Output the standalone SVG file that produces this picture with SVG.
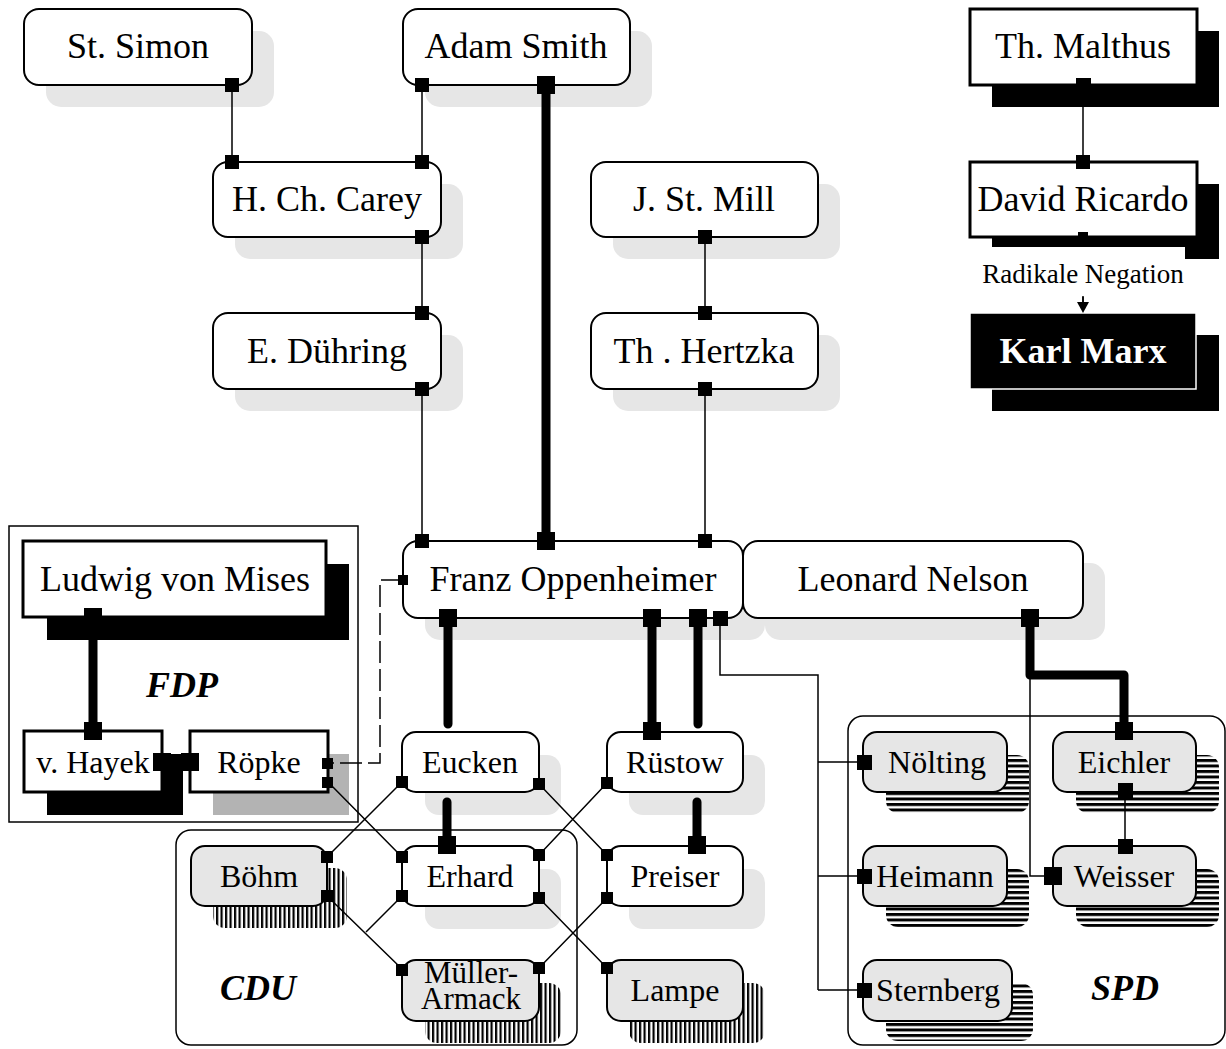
<svg xmlns="http://www.w3.org/2000/svg" width="1226" height="1049" viewBox="0 0 1226 1049">
<defs>
<pattern id="hs" width="10" height="5.5" patternUnits="userSpaceOnUse"><rect width="10" height="3" fill="#000"/></pattern>
<pattern id="vs" width="4.5" height="10" patternUnits="userSpaceOnUse"><rect width="2.2" height="10" fill="#000"/></pattern>
<style>
.box{fill:#fff;stroke:#000;stroke-width:2}
.gbox{fill:#e6e6e6;stroke:#000;stroke-width:2}
.sbox{fill:#fff;stroke:#000;stroke-width:3}
.shd{fill:#e6e6e6}
.bshd{fill:#000}
.hs{fill:url(#hs)}
.vs{fill:url(#vs)}
.cont{fill:none;stroke:#000;stroke-width:1.5}
.t{font-family:"Liberation Serif","Times New Roman",serif;font-size:36px;text-anchor:middle;fill:#000}
.ts{font-size:32px}
.lab{font-weight:bold;font-style:italic}
.thin{stroke:#000;stroke-width:1.5;fill:none}
.thick{stroke:#000;stroke-width:9;fill:none;stroke-linecap:round;stroke-linejoin:round}
.dash{stroke:#000;stroke-width:1.5;fill:none;stroke-dasharray:22 6}
.sq{fill:#000}
</style>
</defs>
<rect width="1226" height="1049" fill="#fff"/>

<g id="containers">
<rect id="fdp" x="9" y="526" width="349" height="296" class="cont"/>
<rect id="cdu" x="176" y="830" width="401" height="215" rx="15" class="cont"/>
<rect id="spd" x="848" y="716" width="377" height="329" rx="15" class="cont"/>
<text class="t lab" x="182" y="697">FDP</text>
<text class="t lab" x="258" y="1000">CDU</text>
<text class="t lab" x="1125" y="1000">SPD</text>
</g>

<g id="n-stsimon"><rect x="46" y="31" width="228" height="76" rx="15" class="shd"/><rect x="24" y="9" width="228" height="76" rx="15" class="box"/><text class="t" x="138" y="58">St. Simon</text></g>
<g id="n-smith"><rect x="425" y="31" width="227" height="76" rx="15" class="shd"/><rect x="403" y="9" width="227" height="76" rx="15" class="box"/><text class="t" x="516" y="58">Adam Smith</text></g>
<g id="n-malthus"><rect x="992" y="31" width="227" height="76" class="bshd"/><rect x="970" y="9" width="227" height="76" class="sbox"/><text class="t" x="1083" y="58">Th. Malthus</text></g>
<g id="n-carey"><rect x="235" y="184" width="228" height="75" rx="15" class="shd"/><rect x="213" y="162" width="228" height="75" rx="15" class="box"/><text class="t" x="327" y="211">H. Ch. Carey</text></g>
<g id="n-mill"><rect x="613" y="184" width="227" height="75" rx="15" class="shd"/><rect x="591" y="162" width="227" height="75" rx="15" class="box"/><text class="t" x="704" y="211">J. St. Mill</text></g>
<g id="n-ricardo"><rect x="992" y="184" width="227" height="75" class="bshd"/><rect x="970" y="162" width="227" height="75" class="sbox"/><text class="t" x="1083" y="211">David Ricardo</text></g>
<g id="n-duehring"><rect x="235" y="335" width="228" height="76" rx="15" class="shd"/><rect x="213" y="313" width="228" height="76" rx="15" class="box"/><text class="t" x="327" y="363">E. Dühring</text></g>
<g id="n-hertzka"><rect x="613" y="335" width="227" height="76" rx="15" class="shd"/><rect x="591" y="313" width="227" height="76" rx="15" class="box"/><text class="t" x="704" y="363">Th . Hertzka</text></g>
<g id="n-marx"><rect x="992" y="335" width="227" height="76" class="bshd"/><rect x="970" y="313" width="226" height="76" fill="#000" stroke="#fff" stroke-width="1.5"/><text class="t" x="1083" y="363" font-weight="bold" style="fill:#fff">Karl Marx</text></g>

<g id="n-oppenheimer"><rect x="425" y="563" width="340" height="77" rx="15" class="shd"/><rect x="403" y="541" width="340" height="77" rx="15" class="box"/><text class="t" x="573" y="591">Franz Oppenheimer</text></g>
<g id="n-nelson"><rect x="765" y="563" width="340" height="77" rx="15" class="shd"/><rect x="743" y="541" width="340" height="77" rx="15" class="box"/><text class="t" x="913" y="591">Leonard Nelson</text></g>

<g id="n-mises"><rect x="47" y="564" width="302" height="76" class="bshd"/><rect x="23" y="541" width="303" height="76" class="sbox"/><text class="t" x="175" y="591">Ludwig von Mises</text></g>
<g id="n-hayek"><rect x="47" y="754" width="136" height="61" class="bshd"/><rect x="24" y="731" width="138" height="61" class="sbox"/><text class="t ts" x="93" y="773">v. Hayek</text></g>
<g id="n-roepke"><rect x="213" y="754" width="136" height="61" fill="#b3b3b3"/><rect x="190" y="731" width="138" height="61" class="sbox"/><text class="t ts" x="259" y="773">Röpke</text></g>

<g id="n-eucken"><rect x="425" y="755" width="136" height="60" rx="14" class="shd"/><rect x="402" y="732" width="137" height="60" rx="14" class="box"/><text class="t ts" x="470" y="773">Eucken</text></g>
<g id="n-ruestow"><rect x="629" y="755" width="136" height="60" rx="14" class="shd"/><rect x="607" y="732" width="136" height="60" rx="14" class="box"/><text class="t ts" x="675" y="773">Rüstow</text></g>
<g id="n-erhard"><rect x="425" y="869" width="136" height="60" rx="14" class="shd"/><rect x="402" y="846" width="137" height="60" rx="14" class="box"/><text class="t ts" x="470" y="887">Erhard</text></g>
<g id="n-preiser"><rect x="629" y="869" width="136" height="60" rx="14" class="shd"/><rect x="607" y="846" width="136" height="60" rx="14" class="box"/><text class="t ts" x="675" y="887">Preiser</text></g>
<g id="n-boehm"><rect x="213" y="868" width="134" height="60" rx="12" class="vs"/><rect x="191" y="846" width="136" height="60" rx="14" class="gbox"/><text class="t ts" x="259" y="887">Böhm</text></g>
<g id="n-muellerarmack"><rect x="425" y="983" width="136" height="60" rx="12" class="vs"/><rect x="402" y="960" width="137" height="61" rx="14" class="gbox"/><text class="t ts" x="471" y="983" style="font-size:31px">Müller-</text><text class="t ts" x="471" y="1009" style="font-size:31px">Armack</text></g>
<g id="n-lampe"><rect x="629" y="983" width="136" height="60" rx="12" class="vs"/><rect x="607" y="960" width="136" height="61" rx="14" class="gbox"/><text class="t ts" x="675" y="1001">Lampe</text></g>

<g id="n-noelting"><rect x="886" y="755" width="143" height="58" rx="12" class="hs"/><rect x="863" y="732" width="144" height="60" rx="14" class="gbox"/><text class="t ts" x="937" y="773">Nölting</text></g>
<g id="n-eichler"><rect x="1076" y="755" width="143" height="58" rx="12" class="hs"/><rect x="1053" y="732" width="143" height="60" rx="14" class="gbox"/><text class="t ts" x="1124" y="773">Eichler</text></g>
<g id="n-heimann"><rect x="886" y="869" width="143" height="58" rx="12" class="hs"/><rect x="863" y="846" width="144" height="60" rx="14" class="gbox"/><text class="t ts" x="935" y="887">Heimann</text></g>
<g id="n-weisser"><rect x="1076" y="869" width="143" height="58" rx="12" class="hs"/><rect x="1053" y="846" width="143" height="60" rx="14" class="gbox"/><text class="t ts" x="1124" y="887">Weisser</text></g>
<g id="n-sternberg"><rect x="886" y="983" width="147" height="58" rx="12" class="hs"/><rect x="863" y="960" width="149" height="61" rx="14" class="gbox"/><text class="t ts" x="938" y="1001">Sternberg</text></g>

<g id="connectors">
<path class="thin" d="M232 85V162M422 85V162M422 237V313M422 389V541M705 237V313M705 389V541M1083 85V162M1083 238V303"/>
<path class="thin" d="M720 618V675H818V990M818 762H864M818 876H864M818 990H864M1030 675V876H1053M1125 790V846"/>
<path class="thin" d="M402 782L327 857M328 782L402 857M327 896L402 969M402 896L366 932M539 784L607 855M607 783L539 855M539 898L607 968M607 898L539 968"/>
<path class="dash" d="M403 580H380V763H328"/>
<path class="thick" d="M546 85V541M93 617V731M162 762H190M448 618V724M652 618V731M698 618V724M447 802V845M697 802V845M1030 618V675H1124V731"/>
<g class="sq">
<rect x="537" y="76" width="18" height="18"/><rect x="537" y="532" width="18" height="18"/>
<rect x="84" y="608" width="18" height="18"/><rect x="84" y="722" width="18" height="18"/>
<rect x="153" y="753" width="18" height="18"/><rect x="181" y="753" width="18" height="18"/>
<rect x="439" y="609" width="18" height="18"/><rect x="643" y="609" width="18" height="18"/><rect x="689" y="609" width="18" height="18"/>
<rect x="643" y="722" width="18" height="18"/><rect x="438" y="836" width="18" height="18"/><rect x="688" y="836" width="18" height="18"/>
<rect x="1021" y="609" width="18" height="18"/><rect x="1115" y="722" width="18" height="18"/><rect x="1044" y="867" width="18" height="18"/>
<rect x="225" y="78" width="14" height="14"/><rect x="225" y="155" width="14" height="14"/>
<rect x="415" y="78" width="14" height="14"/><rect x="415" y="155" width="14" height="14"/>
<rect x="415" y="230" width="14" height="14"/><rect x="415" y="306" width="14" height="14"/>
<rect x="415" y="382" width="14" height="14"/><rect x="415" y="534" width="14" height="14"/>
<rect x="698" y="230" width="14" height="14"/><rect x="698" y="306" width="14" height="14"/>
<rect x="698" y="382" width="14" height="14"/><rect x="698" y="534" width="14" height="14"/>
<rect x="1076" y="78" width="15" height="14"/><rect x="1076" y="155" width="14" height="14"/>
<rect x="1078" y="232" width="10" height="10"/>
<rect x="713" y="611" width="15" height="15"/>
<rect x="857" y="755" width="15" height="15"/><rect x="857" y="869" width="15" height="15"/><rect x="857" y="983" width="15" height="15"/>
<rect x="1118" y="783" width="15" height="15"/><rect x="1118" y="839" width="15" height="15"/>
<rect x="398" y="575" width="10" height="10"/>
<rect x="322" y="758" width="11" height="11"/><rect x="322" y="777" width="11" height="11"/>
<rect x="396" y="776" width="12" height="12"/><rect x="533" y="778" width="12" height="12"/><rect x="601" y="777" width="12" height="12"/>
<rect x="396" y="851" width="12" height="12"/><rect x="396" y="890" width="12" height="12"/>
<rect x="533" y="849" width="12" height="12"/><rect x="533" y="892" width="12" height="12"/>
<rect x="601" y="849" width="12" height="12"/><rect x="601" y="892" width="12" height="12"/>
<rect x="321" y="851" width="12" height="12"/><rect x="321" y="890" width="12" height="12"/>
<rect x="396" y="964" width="12" height="12"/><rect x="533" y="962" width="12" height="12"/><rect x="601" y="962" width="12" height="12"/>
</g>
</g>

<g id="label-negation">
<rect x="975" y="247" width="210" height="50" fill="#fff"/>
<text class="t" x="1083" y="283" style="font-size:27px">Radikale Negation</text>
<path class="thin" d="M1083 296V303"/>
<polygon points="1077,302 1089,302 1083,313" fill="#000"/>
</g>
</svg>
